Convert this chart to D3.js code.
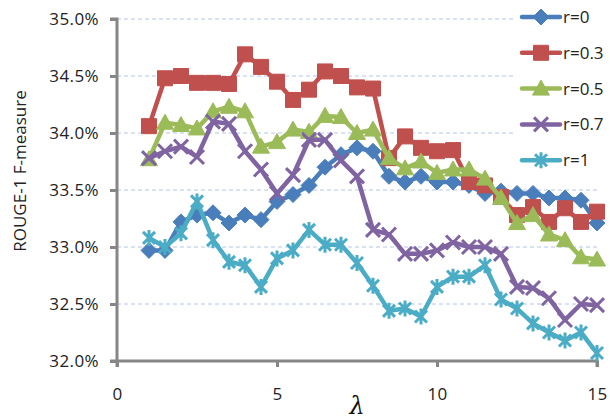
<!DOCTYPE html>
<html><head><meta charset="utf-8">
<script src="https://cdn.jsdelivr.net/npm/d3@7"></script>
<style>body{margin:0;background:#fff}svg{display:block}</style>
</head><body>
<script>
const lambdas = [1,1.5,2,2.5,3,3.5,4,4.5,5,5.5,6,6.5,7,7.5,8,8.5,9,9.5,10,10.5,11,11.5,12,12.5,13,13.5,14,14.5,15];
const seriesNames = ["r=0","r=0.3","r=0.5","r=0.7","r=1"];
const r0  = [32.97,32.97,33.22,33.28,33.30,33.21,33.28,33.24,33.40,33.46,33.54,33.70,33.81,33.87,33.84,33.62,33.57,33.62,33.57,33.57,33.54,33.47,33.49,33.47,33.47,33.43,33.43,33.41,33.21];
const r03 = [34.06,34.48,34.50,34.44,34.44,34.43,34.69,34.58,34.45,34.29,34.38,34.54,34.50,34.40,34.39,33.78,33.97,33.87,33.84,33.85,33.57,33.54,33.44,33.28,33.35,33.22,33.34,33.22,33.31];
const r05 = [33.77,34.09,34.07,34.04,34.19,34.23,34.19,33.88,33.92,34.03,34.01,34.15,34.14,34.00,34.03,33.78,33.69,33.75,33.65,33.68,33.68,33.60,33.43,33.21,33.28,33.11,33.06,32.91,32.89];
const r07 = [33.78,33.84,33.88,33.79,34.10,34.08,33.84,33.68,33.47,33.63,33.94,33.94,33.76,33.62,33.15,33.11,32.94,32.94,32.97,33.04,33.00,33.00,32.94,32.65,32.64,32.55,32.36,32.50,32.49];
const r1  = [33.08,33.00,33.12,33.40,33.06,32.87,32.84,32.65,32.90,32.97,33.15,33.02,33.02,32.86,32.66,32.44,32.46,32.39,32.65,32.74,32.74,32.84,32.54,32.46,32.33,32.25,32.18,32.25,32.07];
const yTicks = [32.0,32.5,33.0,33.5,34.0,34.5,35.0];
const xTicks = [0,5,10,15];
const seriesValues = [r0,r03,r05,r07,r1];
const colors = ["#4a7ebb","#c0504d","#9bbb59","#8064a2","#4bacc6"];
const shapes = ["diamond","square","triangle","x","asterisk"];

const W=610,H=420;
const svg=d3.select("body").append("svg").attr("width",W).attr("height",H);
const x=d3.scaleLinear().domain([0,15]).range([117,597]);
const y=d3.scaleLinear().domain([32,35]).range([361,19]);
const axisColor="#868686";
const font="'Open Sans', 'DejaVu Sans', sans-serif";

// gridlines
svg.append("g").selectAll("line").data(yTicks.filter(d=>d>32)).join("line")
  .attr("x1",x(0)).attr("x2",x(15)).attr("y1",d=>y(d)).attr("y2",d=>y(d))
  .attr("stroke","#b4c6e7").attr("stroke-width",1).attr("stroke-dasharray","4,3");

// axes
const yAxis=d3.axisLeft(y).tickValues(yTicks).tickFormat(d=>d.toFixed(1)+"%").tickSize(7).tickPadding(11);
const gy=svg.append("g").attr("transform",`translate(${x(0)},0)`).call(yAxis);
const xAxis=d3.axisBottom(x).tickValues(xTicks).tickSize(6).tickPadding(21);
const gx=svg.append("g").attr("transform",`translate(0,${y(32)})`).call(xAxis);
[gx,gy].forEach(g=>{
  g.select(".domain").attr("stroke",axisColor).attr("stroke-width",3);
  g.selectAll(".tick line").attr("stroke",axisColor).attr("stroke-width",3);
  g.selectAll("text").attr("fill","#222").style("font-family",font).style("font-size","17px").style("letter-spacing","0.4px");
});
gy.select(".domain").attr("d",`M-7,${y(35)}H0V${y(32)}H-7`);
gx.select(".domain").attr("d",`M${x(0)},6V0H${x(15)}V6`);

// axis titles
svg.append("text").attr("transform",`translate(26,171) rotate(-90)`).attr("text-anchor","middle")
  .style("font-family",font).style("font-size","17px").attr("fill","#222").text("ROUGE-1 F-measure");
svg.append("text").attr("x",x(7.5)).attr("y",414).attr("text-anchor","middle")
  .style("font-family","'DejaVu Serif', serif").style("font-style","italic").style("font-size","24px").attr("fill","#111").text("λ");

function markerPath(shape){
  switch(shape){
    case "diamond": return "M0,-8L8,0L0,8L-8,0Z";
    case "square": return "M-7.5,-7.5H7.5V7.5H-7.5Z";
    case "triangle": return "M0,-8.5L8.5,6.5H-8.5Z";
    case "x": return "M-7,-7L7,7M7,-7L-7,7";
    case "asterisk": return "M-6,-6L6,6M6,-6L-6,6M0,-8V8";
  }
}
function drawMarker(g,shape,color){
  const p=g.append("path").attr("d",markerPath(shape));
  if(shape==="x"||shape==="asterisk") p.attr("fill","none").attr("stroke",color).attr("stroke-width",3);
  else p.attr("fill",color).attr("stroke",color).attr("stroke-width",1).attr("stroke-linejoin","round");
}

const line=d3.line().x((d,i)=>x(lambdas[i])).y(d=>y(d));
seriesValues.forEach((vals,si)=>{
  const g=svg.append("g");
  g.append("path").datum(vals).attr("d",line).attr("fill","none").attr("stroke",colors[si])
    .attr("stroke-width",4.5).attr("stroke-linejoin","round").attr("stroke-linecap","round");
  vals.forEach((v,i)=>{
    const mg=g.append("g").attr("transform",`translate(${x(lambdas[i])},${y(v)})`);
    drawMarker(mg,shapes[si],colors[si]);
  });
});

// legend
const lg=svg.append("g");
lg.append("rect").attr("x",513).attr("y",0).attr("width",97).attr("height",176).attr("fill","#fff");
seriesNames.forEach((n,i)=>{
  const yy=17+i*35.8;
  const g=lg.append("g");
  g.append("line").attr("x1",522).attr("x2",560).attr("y1",yy).attr("y2",yy)
    .attr("stroke",colors[i]).attr("stroke-width",4.5).attr("stroke-linecap","round");
  const mg=g.append("g").attr("transform",`translate(541,${yy})`);
  drawMarker(mg,shapes[i],colors[i]);
  g.append("text").attr("x",563).attr("y",yy).attr("dy","0.35em")
    .style("font-family",font).style("font-size","17px").attr("fill","#222").text(n);
});
</script>
</body></html>
